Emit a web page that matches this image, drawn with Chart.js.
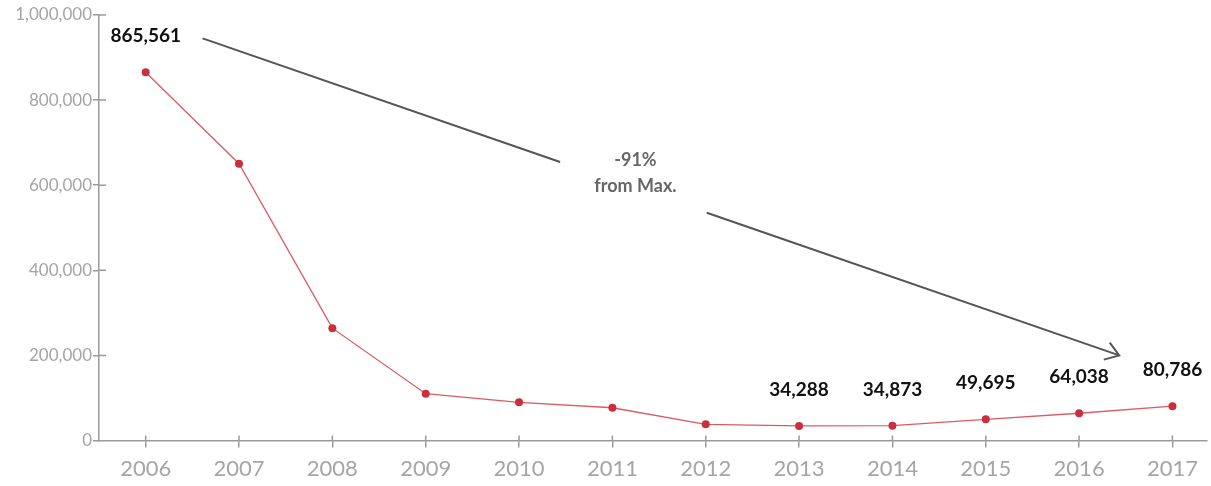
<!DOCTYPE html>
<html>
<head>
<meta charset="utf-8">
<script src="https://cdn.jsdelivr.net/npm/chart.js@4/dist/chart.umd.min.js"></script>
<style>
  html, body { margin: 0; padding: 0; background: #fff; }
  #wrap { width: 1211px; height: 486px; position: relative; }
</style>
</head>
<body>
<div id="wrap"><canvas id="chart"></canvas></div>
<script>
// data
var years = [2006, 2007, 2008, 2009, 2010, 2011, 2012, 2013, 2014, 2015, 2016, 2017];
var values = [865561, 650400, 264000, 110000, 89800, 77000, 38000, 34288, 34873, 49695, 64038, 80786];
var labelledYears = [2006, 2013, 2014, 2015, 2016, 2017];
var yTicks = [0, 200000, 400000, 600000, 800000, 1000000];
var arrowNote = ['-91%', 'from Max.'];
// arrow from near the max label down to the last one, in data units
var arrowFrom = { x: 2006.61, y: 945000 };
var arrowTo = { x: 2016.43, y: 200000 };

var axisGrey = '#9a9a9a';
var fmt = function (v) { return v.toLocaleString('en-US'); };

// short tick marks that cross into the plot area as well
var innerTicks = {
    id: 'innerTicks',
    afterDraw: function (chart) {
        var ctx = chart.ctx, x = chart.scales.x, y = chart.scales.y;
        ctx.save();
        ctx.strokeStyle = axisGrey;
        ctx.lineWidth = 1.5;
        ctx.beginPath();
        years.forEach(function (yr) {
            var px = x.getPixelForValue(yr);
            ctx.moveTo(px, y.bottom);
            ctx.lineTo(px, y.bottom - 5);
        });
        yTicks.forEach(function (v) {
            if (v === 0) return;
            var py = y.getPixelForValue(v);
            ctx.moveTo(x.left, py);
            ctx.lineTo(x.left + 7, py);
        });
        ctx.stroke();
        ctx.restore();
    }
};

var valueLabels = {
    id: 'valueLabels',
    afterDatasetsDraw: function (chart) {
        var ctx = chart.ctx;
        var meta = chart.getDatasetMeta(0);
        ctx.save();
        ctx.font = 'bold 19px Lato';
        ctx.fillStyle = '#111';
        ctx.textAlign = 'center';
        ctx.textBaseline = 'middle';
        years.forEach(function (yr, i) {
            if (labelledYears.indexOf(yr) < 0) return;
            var pt = meta.data[i];
            ctx.fillText(fmt(values[i]), pt.x, pt.y - 36);
        });
        ctx.restore();
    }
};

var dropArrow = {
    id: 'dropArrow',
    afterDatasetsDraw: function (chart) {
        var ctx = chart.ctx, x = chart.scales.x, y = chart.scales.y;
        var x1 = x.getPixelForValue(arrowFrom.x), y1 = y.getPixelForValue(arrowFrom.y);
        var x2 = x.getPixelForValue(arrowTo.x), y2 = y.getPixelForValue(arrowTo.y);
        var dx = x2 - x1, dy = y2 - y1;
        // gap around the note text
        var gapA = 0.39, gapB = 0.55;
        ctx.save();
        ctx.strokeStyle = '#555';
        ctx.lineWidth = 2;
        ctx.beginPath();
        ctx.moveTo(x1, y1);
        ctx.lineTo(x1 + dx * gapA, y1 + dy * gapA);
        ctx.moveTo(x1 + dx * gapB, y1 + dy * gapB);
        ctx.lineTo(x2, y2);
        // open arrow head
        var ang = Math.atan2(dy, dx), h = 16, spread = 0.6;
        ctx.moveTo(x2 - h * Math.cos(ang - spread), y2 - h * Math.sin(ang - spread));
        ctx.lineTo(x2, y2);
        ctx.lineTo(x2 - h * Math.cos(ang + spread), y2 - h * Math.sin(ang + spread));
        ctx.stroke();

        var mx = x1 + dx * 0.47, my = y1 + dy * 0.47;
        ctx.font = 'bold 18px Lato';
        ctx.fillStyle = '#666';
        ctx.textAlign = 'center';
        ctx.textBaseline = 'middle';
        ctx.fillText(arrowNote[0], mx + 2, my - 27);
        ctx.fillText(arrowNote[1], mx + 2, my - 1);
        ctx.restore();
    }
};

var ctx = document.getElementById('chart').getContext('2d');
new Chart(ctx, {
    type: 'line',
    data: {
        datasets: [{
            data: years.map(function (yr, i) { return { x: yr, y: values[i] }; }),
            borderColor: '#dc5a64',
            borderWidth: 1.3,
            backgroundColor: '#c9303d',
            pointBackgroundColor: '#c9303d',
            pointBorderColor: '#c9303d',
            pointBorderWidth: 0,
            pointRadius: 4,
            tension: 0,
            fill: false
        }]
    },
    options: {
        responsive: true,
        maintainAspectRatio: false,
        animation: false,
        layout: { padding: { top: 15, right: 0, left: 0, bottom: 0 } },
        plugins: {
            legend: { display: false },
            tooltip: { enabled: false }
        },
        scales: {
            x: {
                type: 'linear',
                min: 2005.5,
                max: 2017.37,
                afterBuildTicks: function (scale) {
                    scale.ticks = years.map(function (v) { return { value: v }; });
                },
                afterFit: function (scale) { scale.height = 45.5; },
                grid: { drawOnChartArea: false, color: axisGrey, lineWidth: 1.5, tickLength: 7 },
                border: { color: axisGrey, width: 1.5 },
                ticks: {
                    color: '#a5a5a5',
                    font: { family: 'Lato', size: 22 },
                    padding: 8,
                    maxRotation: 0,
                    callback: function (v) { return String(v); }
                }
            },
            y: {
                min: 0,
                max: 1000000,
                afterBuildTicks: function (scale) {
                    scale.ticks = yTicks.map(function (v) { return { value: v }; });
                },
                afterFit: function (scale) { scale.width = 99; },
                grid: { drawOnChartArea: false, color: axisGrey, lineWidth: 1.5, tickLength: 6 },
                border: { color: axisGrey, width: 1.5 },
                ticks: {
                    color: '#a5a5a5',
                    font: { family: 'Lato', size: 17 },
                    padding: 1,
                    callback: function (v) { return fmt(v); }
                }
            }
        }
    },
    plugins: [innerTicks, valueLabels, dropArrow]
});
</script>
</body>
</html>
